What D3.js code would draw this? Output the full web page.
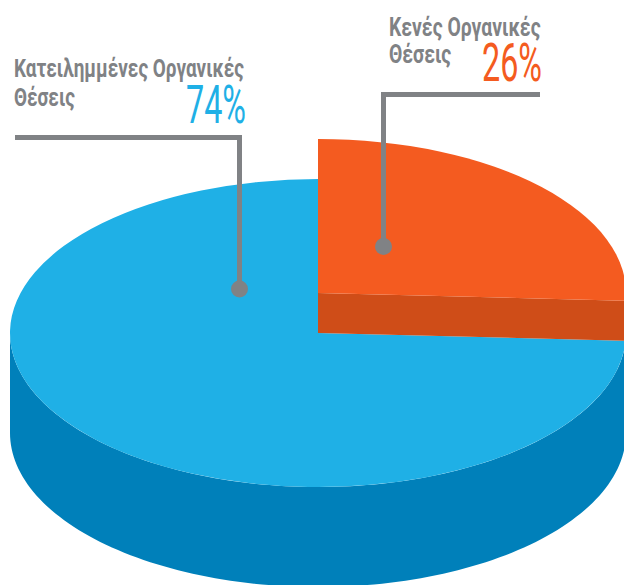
<!DOCTYPE html>
<html><head><meta charset="utf-8">
<script src="https://cdn.jsdelivr.net/npm/d3@7"></script>
<style>html,body{margin:0;padding:0;background:#fff;overflow:hidden}svg{display:block}
text{font-family:Roboto,"Open Sans",sans-serif}</style></head>
<body><svg id="c" width="624" height="585"></svg>
<script>
const categories = ["Κενές Οργανικές Θέσεις", "Κατειλημμένες Οργανικές Θέσεις"];
const values = [26, 74];
const valueLabels = ["26%", "74%"];
const labelLine1 = ["Κενές Οργανικές", "Κατειλημμένες Οργανικές"];
const labelLine2 = ["Θέσεις", "Θέσεις"];
const colors = ["#F45B20", "#1FB0E6"];
const wallColors = ["#CF4D18", "#0080BA"];

const W=624,H=585,cx=318,cy=333,rx=308,ry=154,depth=100,lift=40,edgeTrim=0.013;
const svg=d3.select("#c");
const pie=d3.pie().sort(null).value(d=>d)(values);
const arc=d3.arc().innerRadius(0).outerRadius(rx);
const pt=(a,dy=0)=>[cx+rx*Math.sin(a),cy-ry*Math.cos(a)+dy];

const orange={...pie[0],endAngle:pie[0].endAngle-edgeTrim};
const blue={...pie[1],startAngle:pie[1].startAngle-edgeTrim};

// blue outer wall
const wa=d3.range(Math.PI/2,3*Math.PI/2+0.001,Math.PI/120);
const wallPts=[...wa.map(a=>pt(a,0)),...wa.slice().reverse().map(a=>pt(a,depth))];
svg.append("path").attr("d",d3.line()(wallPts)+"Z").attr("fill",wallColors[1]);

// blue top
svg.append("path").attr("d",arc(blue))
  .attr("transform",`translate(${cx},${cy}) scale(1,${ry/rx})`).attr("fill",colors[1]);

// orange cut face
const e=pt(orange.endAngle,0);
const face=[[cx,cy],[e[0],e[1]],[e[0],e[1]-lift],[cx,cy-lift]];
svg.append("path").attr("d",d3.line()(face)+"Z").attr("fill",wallColors[0]);

// orange top
svg.append("path").attr("d",arc(orange))
  .attr("transform",`translate(${cx},${cy-lift}) scale(1,${ry/rx})`).attr("fill",colors[0]);

// leader lines
const gray="#808285";
const leaders=[
 {pts:[[540,94.5],[383.5,94.5],[383.5,246]],dot:[383.5,246.5]},
 {pts:[[15,137.5],[239.5,137.5],[239.5,289]],dot:[239.5,289]}];
leaders.forEach(l=>{
  svg.append("path").attr("d",d3.line()(l.pts)).attr("fill","none").attr("stroke",gray).attr("stroke-width",5);
  svg.append("circle").attr("cx",l.dot[0]).attr("cy",l.dot[1]).attr("r",8.5).attr("fill",gray);
});

// labels
const lab=[{x:389,y1:36,y2:63,vx:542,vy:81,sx:0.73},{x:14,y1:77,y2:106,vx:246,vy:123,sx:0.714}];
lab.forEach((p,i)=>{
  const t=(x,y,s,size,w,fill,anchor,sx)=>svg.append("text").attr("transform",`translate(${x},${y}) scale(${sx},1)`)
    .attr("font-size",size).attr("font-weight",w).attr("fill",fill).attr("text-anchor",anchor).text(s);
  t(p.x,p.y1,labelLine1[i],26.5,700,gray,"start",p.sx);
  t(p.x,p.y2,labelLine2[i],26.5,700,gray,"start",p.sx);
  t(p.vx,p.vy,valueLabels[i],53,400,colors[i],"end",0.61);
});
</script></body></html>
